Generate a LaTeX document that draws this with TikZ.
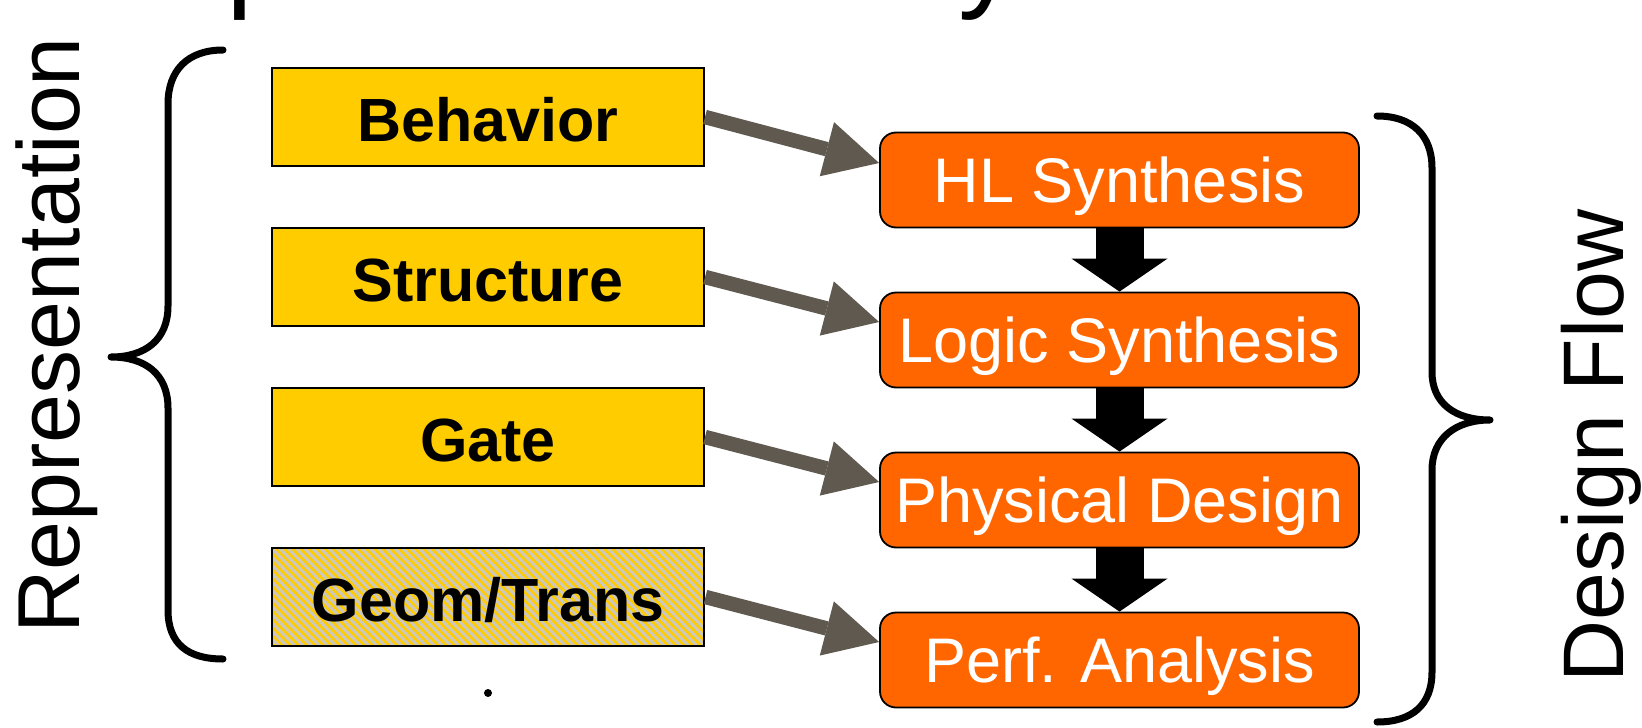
\documentclass[tikz,border=0pt]{standalone}
\usepackage{fontspec}
\setmainfont{Liberation Sans}
\usetikzlibrary{arrows.meta,patterns.meta}

\definecolor{stageyellow}{RGB}{255,204,0}
\definecolor{stageorange}{RGB}{255,102,0}
\definecolor{linkgray}{RGB}{95,89,80}
\definecolor{stripegray}{RGB}{204,200,192}

\tikzset{
  repbox/.style={draw=black, line width=2pt, fill=stageyellow,
    minimum width=432pt, minimum height=98pt, inner sep=0pt,
    font=\fontsize{61}{61}\selectfont\bfseries,
    text height=48pt, text depth=0pt},
  hatched/.style={preaction={fill=stageyellow},
    pattern={Lines[angle=-45,distance=5.8pt,line width=3pt]},
    pattern color=stripegray},
  flowbox/.style={draw=black, line width=1.8pt, fill=stageorange,
    rounded corners=16pt, minimum width=479pt, minimum height=95pt,
    inner sep=0pt, text=white, font=\fontsize{63}{63}\selectfont,
    text height=45pt, text depth=0pt},
  maplink/.style={draw=linkgray, line width=14.5pt,
    -{Triangle[length=54pt,width=56pt,line width=0pt]}},
  flowlink/.style={draw=black, line width=48pt,
    -{Triangle[length=33pt,width=96pt,line width=0pt]}},
  curly/.style={draw=black, line width=7pt, line cap=round, line join=round},
  sidelabel/.style={rotate=90, anchor=base west, inner sep=0pt},
  cutglyph/.style={anchor=base west, inner sep=0pt,
    font=\fontsize{120}{120}\selectfont},
}

\begin{document}
\begin{tikzpicture}[x=1pt, y=-1pt]
  \useasboundingbox (0,0) rectangle (1642,728);
  \clip (0,0) rectangle (1642,728);

  % heading line running off the top edge
  \node[cutglyph] (headp) at (226,-5) {p};
  \node[cutglyph] (heady) at (958,-5) {y};

  % representation levels
  \node[repbox] (beh) at (488,117) {Behavior};
  \node[repbox] (str) at (488,277) {Structure};
  \node[repbox] (gat) at (488,437) {Gate};
  \node[repbox, hatched] (geo) at (488,597) {Geom/Trans};

  % design flow stages
  \node[flowbox] (hls) at (1119.5,180) {HL Synthesis};
  \node[flowbox] (lgs) at (1119.5,340) {Logic Synthesis};
  \node[flowbox] (phy) at (1119.5,500) {Physical Design};
  \node[flowbox] (prf) at (1119.5,660) {Perf. Analysis};

  % flow between stages
  \draw[flowlink] (hls.south) -- (lgs.north);
  \draw[flowlink] (lgs.south) -- (phy.north);
  \draw[flowlink] (phy.south) -- (prf.north);

  % level to stage mapping
  \draw[maplink] (beh.east) -- ([yshift=17pt]hls.west);
  \draw[maplink] (str.east) -- ([yshift=18pt]lgs.west);
  \draw[maplink] (gat.east) -- ([yshift=18pt]phy.west);
  \draw[maplink] (geo.east) -- ([yshift=18pt]prf.west);

  % small mark below the last level
  \node[circle, fill=black, inner sep=0pt, minimum size=8pt] (dot) at (488,693) {};

  % braces
  \draw[curly] (223,50) .. controls (188,50) and (168,70) .. (168,104)
    -- (168,306) .. controls (168,340) and (145,357) .. (111,357)
    .. controls (145,357) and (168,374) .. (168,408)
    -- (168,610) .. controls (168,644) and (188,659) .. (223,659);
  \draw[curly] (1377,116) .. controls (1412,116) and (1432,135) .. (1432,168)
    -- (1432,372) .. controls (1432,404) and (1456,420) .. (1490,420)
    .. controls (1456,420) and (1432,438) .. (1432,470)
    -- (1432,672) .. controls (1432,705) and (1412,722) .. (1377,722);

  % side titles
  \node[sidelabel, font=\fontsize{88}{88}\selectfont] (replabel) at (79,634) {Representation};
  \node[sidelabel, font=\fontsize{86}{86}\selectfont] (flowlabel) at (1623,683) {Design Flow};
\end{tikzpicture}
\end{document}
